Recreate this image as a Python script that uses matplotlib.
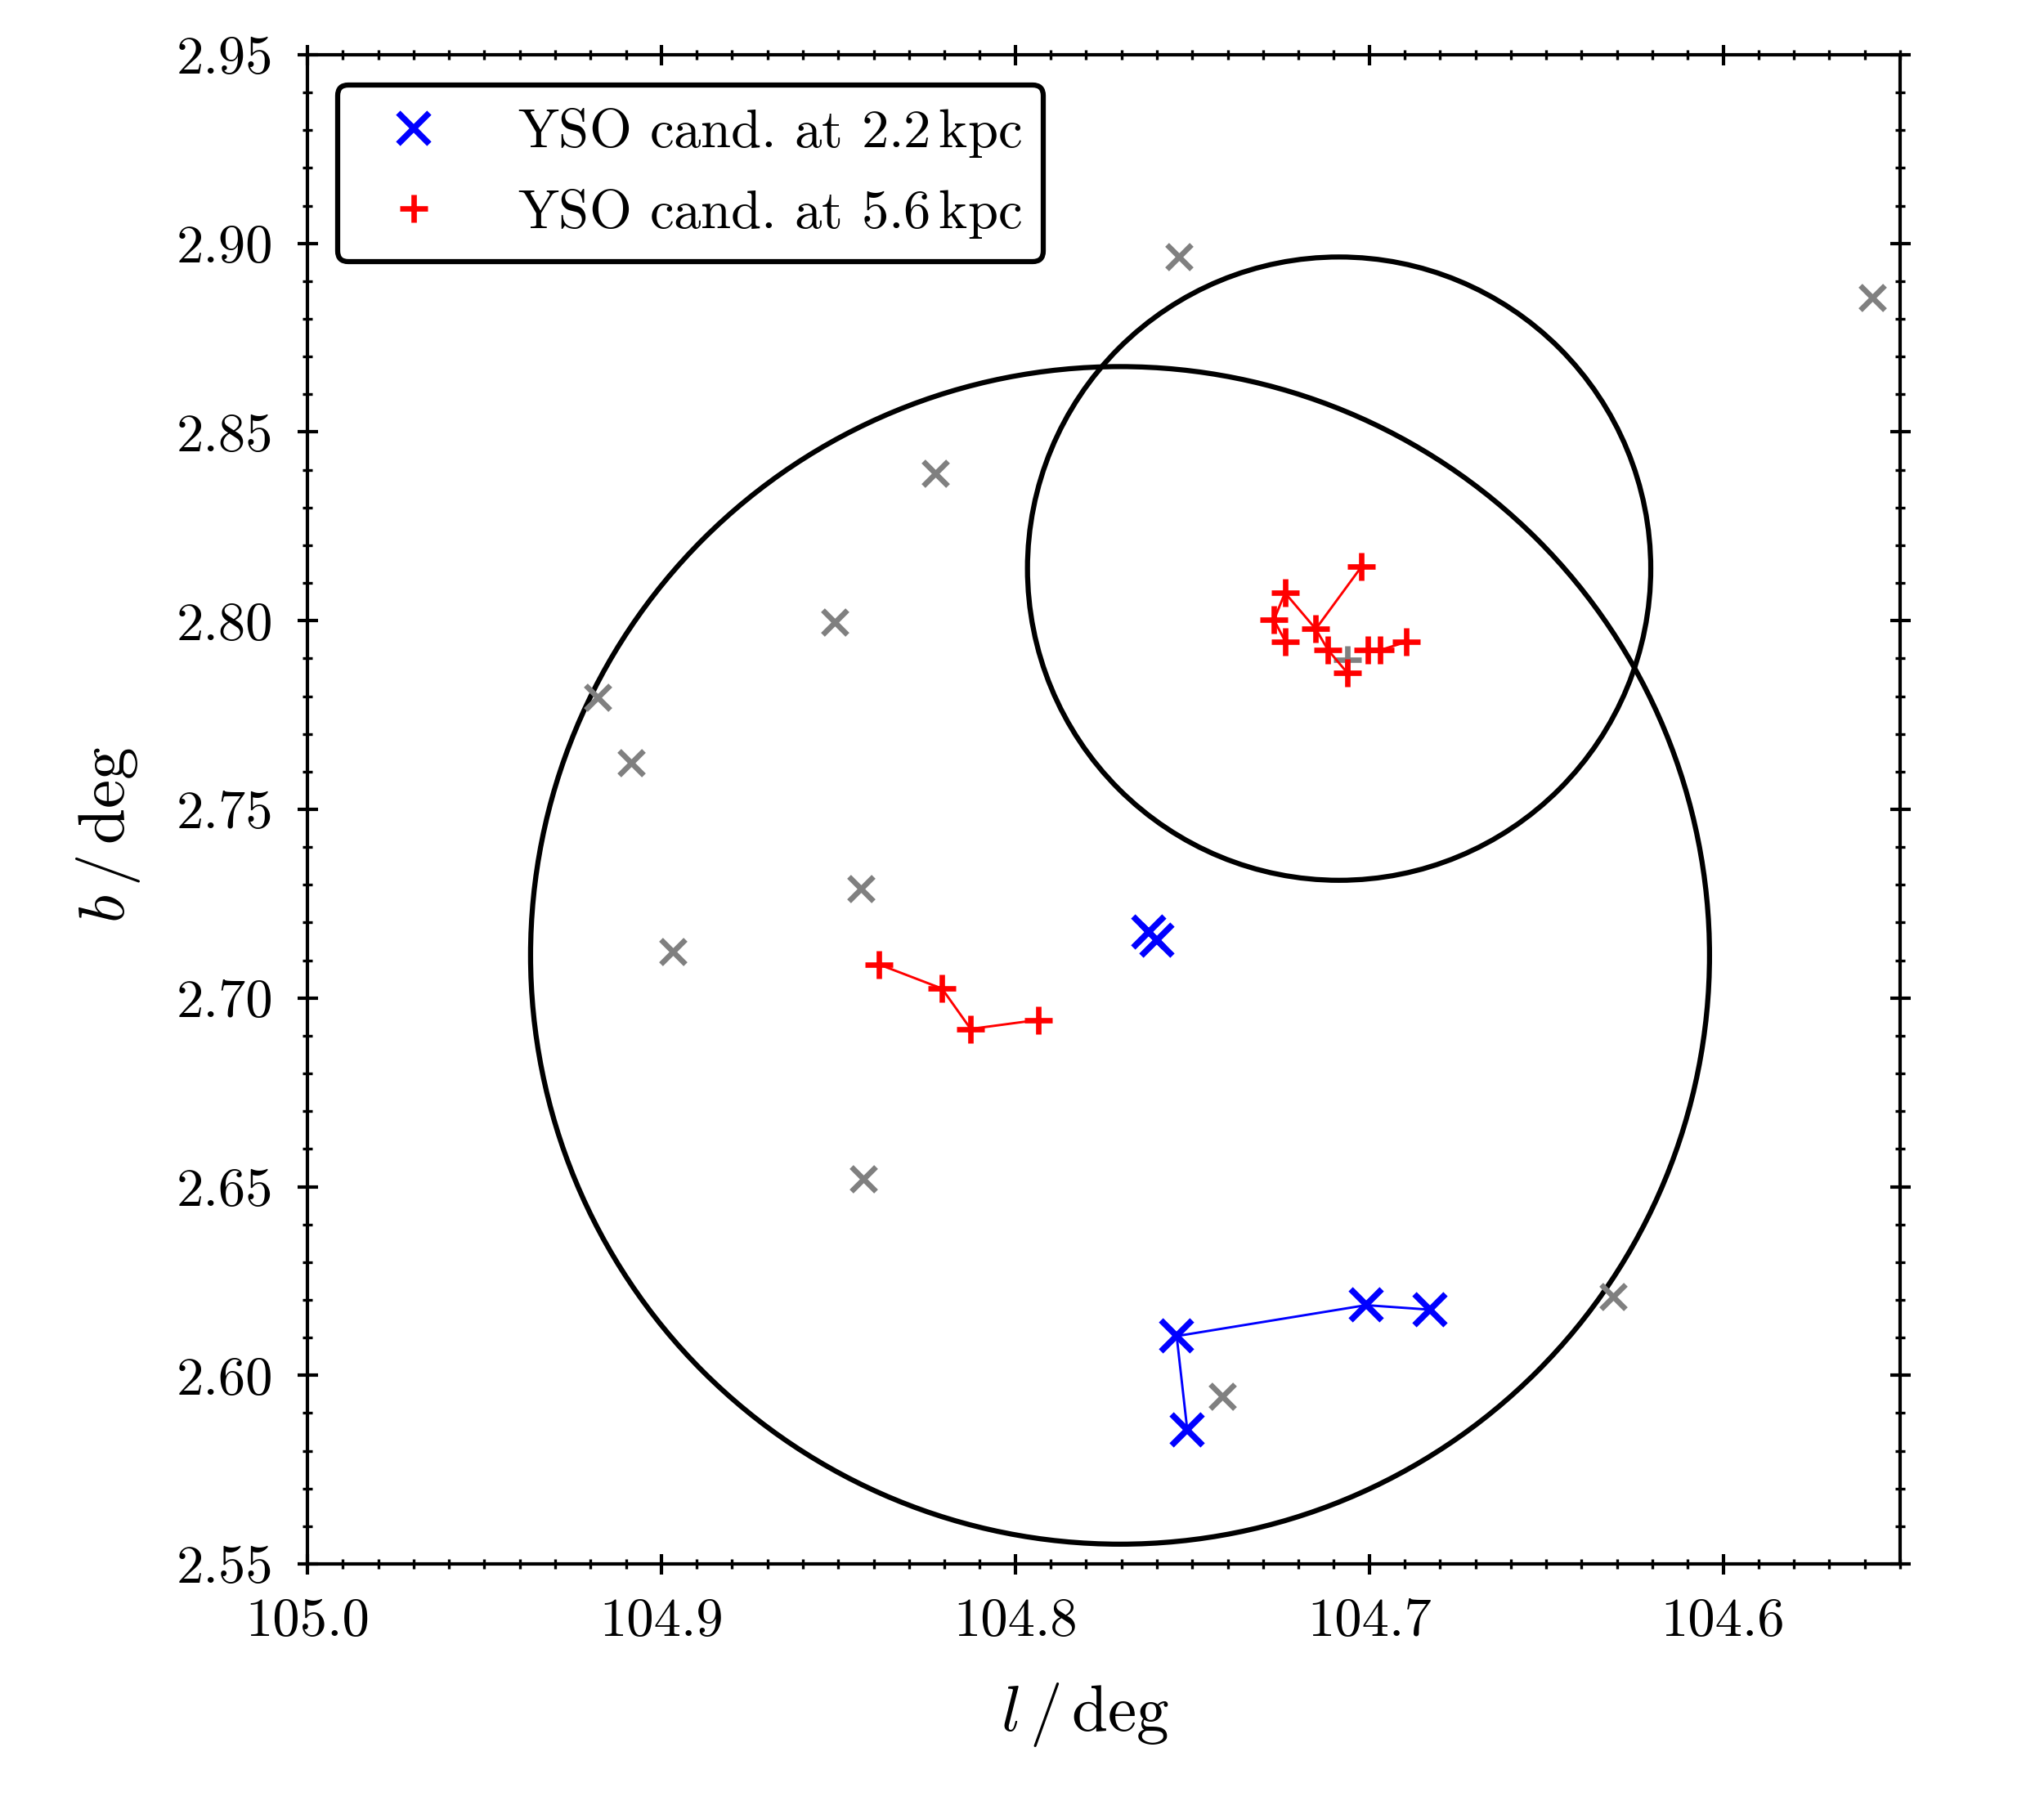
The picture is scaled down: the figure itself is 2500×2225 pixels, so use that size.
import numpy as np
import matplotlib
matplotlib.use("Agg")
import matplotlib.pyplot as plt
from matplotlib.patches import Ellipse
from matplotlib.ticker import MultipleLocator

plt.rcParams['font.family'] = 'serif'
plt.rcParams['font.serif'] = ['cmr10']
plt.rcParams['mathtext.fontset'] = 'cm'
plt.rcParams['axes.unicode_minus'] = False
plt.rcParams['axes.formatter.use_mathtext'] = True

# field sources (grey)
gray_l = [104.7538, 104.5578, 104.8227, 104.8511, 104.9181, 104.9085,
          104.8435, 104.8967, 104.8429, 104.6311, 104.7416]
gray_b = [2.8964, 2.8857, 2.8390, 2.7996, 2.7796, 2.7623,
          2.7289, 2.7122, 2.6520, 2.6209, 2.5945]
gray_plus_l = [104.7061]
gray_plus_b = [2.7897]

# YSO candidates at 2.2 kpc
blue_l = [104.7514, 104.7544, 104.7009, 104.6828, 104.7623, 104.7600]
blue_b = [2.5855, 2.6104, 2.6186, 2.6174, 2.7174, 2.7153]
blue_paths = [[0, 1, 2, 3], [4, 5]]

# YSO candidates at 5.6 kpc
red_l = [104.7022, 104.7238, 104.7269, 104.7237, 104.7151, 104.7116, 104.7061,
         104.7003, 104.6969, 104.6895,
         104.8385, 104.8207, 104.8126, 104.7935]
red_b = [2.8143, 2.8074, 2.8002, 2.7945, 2.7978, 2.7922, 2.7861,
         2.7922, 2.7922, 2.7944,
         2.7089, 2.7025, 2.6918, 2.6942]
red_paths = [[3, 2, 1, 4, 0], [4, 5, 6], [7, 8, 9], [10, 11, 12, 13]]

# circles (centre l, centre b, width in l, height in b)
circ_l = [104.7704, 104.7085]
circ_b = [2.7113, 2.8138]
circ_w = [0.3331, 0.1761]
circ_h = [0.3121, 0.1652]

fig = plt.figure(figsize=(2500 / 300, 2225 / 300), dpi=300)
ax = fig.add_axes([0.1504, 0.1402, 0.9296 - 0.1504, 0.9699 - 0.1402])

for cl, cb, cw, ch in zip(circ_l, circ_b, circ_w, circ_h):
    ax.add_patch(Ellipse((cl, cb), cw, ch, fill=False, ec='k', lw=1.5, zorder=1))

ax.plot(gray_l, gray_b, 'x', color='grey', ms=7, mew=1.6, ls='none', zorder=2)
ax.plot(gray_plus_l, gray_plus_b, '+', color='grey', ms=8, mew=1.6, ls='none', zorder=2)

for p in blue_paths:
    ax.plot([blue_l[i] for i in p], [blue_b[i] for i in p], '-', color='b', lw=0.7, zorder=3)
for p in red_paths:
    ax.plot([red_l[i] for i in p], [red_b[i] for i in p], '-', color='r', lw=0.7, zorder=3)

ax.plot(blue_l, blue_b, 'x', color='b', ms=9, mew=1.8, ls='none', zorder=4,
        label=r'YSO cand. at $2.2\,\mathrm{kpc}$')
ax.plot(red_l, red_b, '+', color='r', ms=8, mew=1.6, ls='none', zorder=4,
        label=r'YSO cand. at $5.6\,\mathrm{kpc}$')

ax.set_xlim(105.0, 104.55)
ax.set_ylim(2.55, 2.95)
ax.xaxis.set_major_locator(MultipleLocator(0.1))
ax.xaxis.set_minor_locator(MultipleLocator(0.01))
ax.yaxis.set_major_locator(MultipleLocator(0.05))
ax.yaxis.set_minor_locator(MultipleLocator(0.01))
ax.xaxis.set_major_formatter(matplotlib.ticker.FormatStrFormatter('%.1f'))
ax.yaxis.set_major_formatter(matplotlib.ticker.FormatStrFormatter('%.2f'))

ax.tick_params(which='both', direction='inout', top=True, right=True, labelsize=16)
ax.tick_params(which='major', length=6, width=1.0, pad=7)
ax.tick_params(which='minor', length=3, width=0.8)
for s in ax.spines.values():
    s.set_linewidth(1.0)

ax.set_xlabel(r'$l\,/\,\mathrm{deg}$', fontsize=19, labelpad=10)
ax.set_ylabel(r'$b\,/\,\mathrm{deg}$', fontsize=19, labelpad=10)
ax.xaxis.label.set_x(0.488)
ax.yaxis.label.set_y(0.483)

leg = ax.legend(loc='upper left', fontsize=16, frameon=True, fancybox=True,
                handletextpad=0.9, borderaxespad=0.55, framealpha=1)
leg.get_frame().set_edgecolor('k')
leg.get_frame().set_linewidth(1.5)

fig.savefig('out.png', dpi=300)
